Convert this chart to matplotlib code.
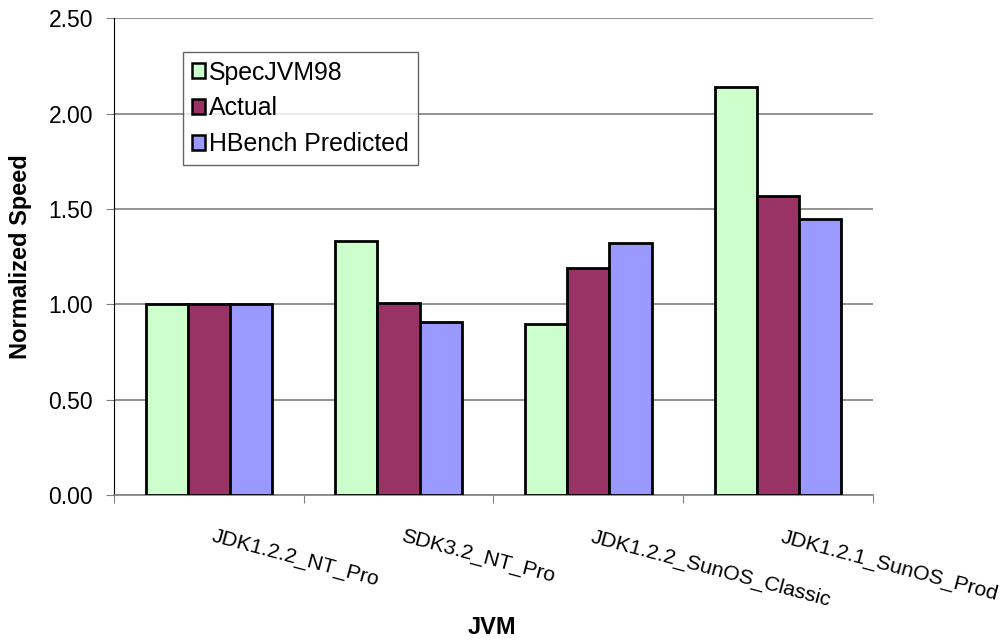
import numpy as np
import matplotlib
matplotlib.use("Agg")
import matplotlib.pyplot as plt

plt.rcParams['font.family'] = ['Liberation Sans', 'DejaVu Sans']

jvms = ["JDK1.2.2_NT_Pro", "SDK3.2_NT_Pro", "JDK1.2.2_SunOS_Classic", "JDK1.2.1_SunOS_Prod"]
specjvm98 = [1.00, 1.33, 0.90, 2.14]
actual = [1.00, 1.01, 1.19, 1.57]
hbench = [1.00, 0.91, 1.32, 1.45]

series = ["SpecJVM98", "Actual", "HBench Predicted"]
colors = ["#ccffcc", "#993366", "#9999ff"]

fig = plt.figure(figsize=(10.08, 6.43), dpi=100)
ax = fig.add_axes([0.113, 0.2294, 0.753, 0.7426])

x = np.arange(len(jvms))
w = 1 / 4.5
for i, (vals, name, c) in enumerate(zip([specjvm98, actual, hbench], series, colors)):
    ax.bar(x + (i - 1) * w, vals, w, color=c, edgecolor="black", linewidth=2,
           label=name, zorder=3)

ax.set_xlim(-0.5, len(jvms) - 0.5)
ax.set_ylim(0, 2.5)
yt = np.arange(0, 2.51, 0.5)
ax.set_yticks(yt)
ax.set_yticklabels([f"{v:.2f}" for v in yt], fontsize=16.5)
ax.yaxis.grid(True, color="#808080", linewidth=1.2, zorder=0)

# category boundary ticks on x axis
ax.set_xticks(np.arange(-0.5, len(jvms)))
ax.set_xticklabels([])
ax.tick_params(axis="x", length=6, direction="out", color="#808080")
ax.tick_params(axis="y", length=6, direction="out", color="#808080", pad=9)
for i, name in enumerate(jvms):
    ax.text(i + 0.03, -0.165, name, rotation=-15, rotation_mode="anchor",
            ha="left", va="top", fontsize=15.3)

for s in ["top", "right"]:
    ax.spines[s].set_visible(False)
ax.spines["left"].set_color("black")
ax.spines["bottom"].set_color("#808080")
ax.spines["bottom"].set_linewidth(1.2)

ax.set_ylabel("Normalized Speed", fontsize=17, fontweight="bold", labelpad=12)
fig.text(0.488, 0.006, "JVM", fontsize=17, fontweight="bold", ha="center", va="bottom")

leg = ax.legend(loc="upper left", bbox_to_anchor=(0.091, 0.929), fontsize=17.9,
                frameon=True, fancybox=False, edgecolor="#404040",
                handlelength=0.55, handleheight=0.55, handletextpad=0.15,
                borderpad=0.35, borderaxespad=0, labelspacing=0.47)
leg.get_frame().set_linewidth(1.0)
for h in leg.legend_handles:
    h.set_linewidth(1.8)

fig.savefig("out.png", dpi=100)
